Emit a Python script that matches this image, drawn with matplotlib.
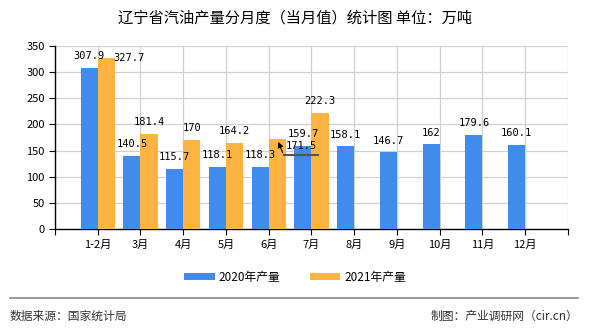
import matplotlib
matplotlib.use("Agg")
import matplotlib.pyplot as plt
import numpy as np

plt.rcParams['font.family'] = ['Noto Sans CJK SC', 'DejaVu Sans']

months = ['1-2月', '3月', '4月', '5月', '6月', '7月', '8月', '9月', '10月', '11月', '12月']
output_2020 = [307.9, 140.5, 115.7, 118.1, 118.3, 159.7, 158.1, 146.7, 162, 179.6, 160.1]
output_2021 = [327.7, 181.4, 170, 164.2, 171.5, 222.3]

blue = '#418BEB'
orange = '#FDB441'

fig = plt.figure(figsize=(5.9, 3.3), dpi=100)
ax = fig.add_axes([0.0932, 0.306, 0.8695, 0.5546])

x = np.arange(len(months))
x21 = np.arange(len(output_2021))
w = 0.4
b1 = ax.bar(x - w / 2, output_2020, width=w, color=blue, label='2020年产量', zorder=3)
b2 = ax.bar(x21 + w / 2, output_2021, width=w, color=orange, label='2021年产量', zorder=3)

ax.set_xlim(-1, len(months))
ax.set_ylim(0, 350)
ax.set_yticks(range(0, 351, 50))
ax.set_xticks(np.arange(-1, len(months) + 1))
ax.set_xticklabels([''] + months + [''], fontsize=8)
ax.tick_params(axis='y', labelsize=8, length=4)
ax.tick_params(axis='x', length=4)
ax.grid(True, color='#d0d0d0', linewidth=0.9, zorder=0)
for s in ['top', 'right']:
    ax.spines[s].set_visible(False)
for s in ['left', 'bottom']:
    ax.spines[s].set_linewidth(1.0)

lab_font = dict(family='DejaVu Sans Mono', fontsize=7.5, ha='center', va='center')
for xi, v in zip(x, output_2020):
    ax.annotate(f'{v:g}', (xi - w / 2, v), xytext=(0, 8.5), textcoords='offset points', **lab_font)
for xi, v in zip(x21, output_2021):
    if xi == 0:
        ax.annotate(f'{v:g}', (xi + w / 2, v), xytext=(16, 0), textcoords='offset points', **lab_font)
    elif xi == 4:
        # label pushed aside with a leader line
        ax.annotate(f'{v:g}', (xi + w / 2, v), xytext=(17, -5), textcoords='offset points', **lab_font)
        ax.annotate('', xy=(xi + w / 2, v), xytext=(xi + 0.35, 141), textcoords='data',
                    arrowprops=dict(arrowstyle='-|>', color='black', lw=0.8, mutation_scale=8))
        ax.plot([xi + 0.35, xi + 1.15], [141, 141], color='#555555', lw=1.5, zorder=4)
    else:
        ax.annotate(f'{v:g}', (xi + w / 2, v), xytext=(0, 8.5), textcoords='offset points', **lab_font)

fig.text(0.5, 0.945, '辽宁省汽油产量分月度（当月值）统计图 单位：万吨', ha='center', va='center', fontsize=11)

fig.legend(handles=[b1, b2], loc='center', bbox_to_anchor=(0.5, 0.16), ncol=2, frameon=False,
           fontsize=8.5, handlelength=2.6, handleheight=0.6, columnspacing=2.5, handletextpad=0.3)

fig.add_artist(plt.Line2D([0.017, 0.98], [0.097, 0.097], color='#888888', lw=1.2))
fig.text(0.017, 0.042, '数据来源：国家统计局', ha='left', va='center', fontsize=8.5, color='#333333')
fig.text(0.98, 0.042, '制图：产业调研网（cir.cn）', ha='right', va='center', fontsize=8.5, color='#333333')

fig.savefig('out.png', dpi=100)
